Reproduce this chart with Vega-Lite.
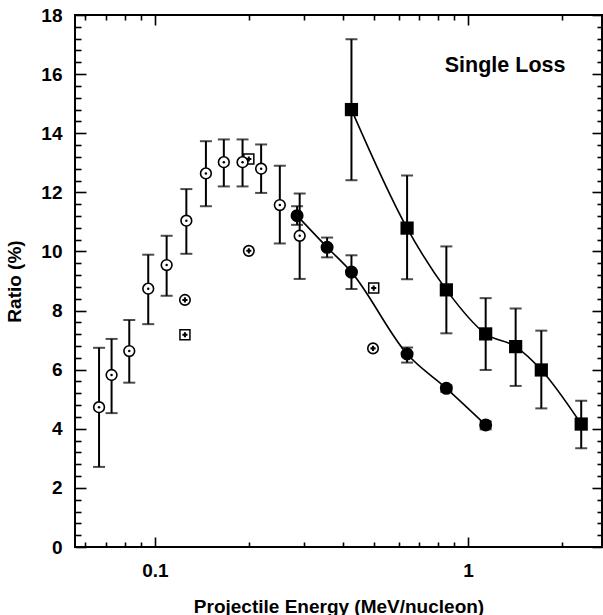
{
  "$schema": "https://vega.github.io/schema/vega-lite/v6.json",
  "autosize": {"type": "none"},
  "padding": {"left": 75, "top": 15, "right": 1, "bottom": 68},
  "width": 527,
  "height": 532,
  "background": "white",
  "config": {
    "view": {"stroke": "black", "strokeWidth": 2},
    "axis": {
      "grid": false, "domain": false, "tickColor": "black", "tickWidth": 1.6,
      "labelFont": "Liberation Sans", "labelFontSize": 19, "labelFontWeight": "bold", "labelColor": "black",
      "titleFont": "Liberation Sans", "titleFontSize": 19, "titleFontWeight": "bold", "titleColor": "black"
    }
  },
  "data": {"values": [
    {"s": "open", "E": 0.0663, "R": 4.73, "lo": 2.71, "hi": 6.74},
    {"s": "open", "E": 0.0727, "R": 5.82, "lo": 4.53, "hi": 7.04},
    {"s": "open", "E": 0.0828, "R": 6.63, "lo": 5.56, "hi": 7.68},
    {"s": "open", "E": 0.0952, "R": 8.74, "lo": 7.54, "hi": 9.89},
    {"s": "open", "E": 0.109, "R": 9.54, "lo": 8.5, "hi": 10.53},
    {"s": "open", "E": 0.126, "R": 11.04, "lo": 9.92, "hi": 12.11},
    {"s": "open", "E": 0.1455, "R": 12.64, "lo": 11.53, "hi": 13.73},
    {"s": "open", "E": 0.166, "R": 13.02, "lo": 12.2, "hi": 13.79},
    {"s": "open", "E": 0.1905, "R": 13.02, "lo": 12.2, "hi": 13.79},
    {"s": "open", "E": 0.2184, "R": 12.8, "lo": 11.98, "hi": 13.62},
    {"s": "open", "E": 0.2506, "R": 11.57, "lo": 10.27, "hi": 12.9},
    {"s": "open", "E": 0.29, "R": 10.53, "lo": 9.07, "hi": 11.96},
    {"s": "fc", "E": 0.2845, "R": 11.21, "lo": 10.9, "hi": 11.53},
    {"s": "fc", "E": 0.3548, "R": 10.14, "lo": 9.8, "hi": 10.47},
    {"s": "fc", "E": 0.4244, "R": 9.3, "lo": 8.73, "hi": 9.87},
    {"s": "fc", "E": 0.639, "R": 6.53, "lo": 6.24, "hi": 6.75},
    {"s": "fc", "E": 0.853, "R": 5.37, "lo": 5.25, "hi": 5.47},
    {"s": "fc", "E": 1.139, "R": 4.13, "lo": 3.98, "hi": 4.25},
    {"s": "fs", "E": 0.4244, "R": 14.8, "lo": 12.41, "hi": 17.18},
    {"s": "fs", "E": 0.639, "R": 10.79, "lo": 9.06, "hi": 12.57},
    {"s": "fs", "E": 0.853, "R": 8.7, "lo": 7.23, "hi": 10.17},
    {"s": "fs", "E": 1.139, "R": 7.21, "lo": 5.99, "hi": 8.42},
    {"s": "fs", "E": 1.42, "R": 6.78, "lo": 5.45, "hi": 8.07},
    {"s": "fs", "E": 1.715, "R": 5.99, "lo": 4.69, "hi": 7.32},
    {"s": "fs", "E": 2.3, "R": 4.16, "lo": 3.34, "hi": 4.95},
    {"s": "oplus", "E": 0.1247, "R": 8.36},
    {"s": "oplus", "E": 0.1995, "R": 10.02},
    {"s": "oplus", "E": 0.4974, "R": 6.72},
    {"s": "boxplus", "E": 0.1247, "R": 7.18},
    {"s": "boxplus", "E": 0.1995, "R": 13.13},
    {"s": "boxplus", "E": 0.4999, "R": 8.76}
  ]},
  "resolve": {"axis": {"x": "independent", "y": "independent"}},
  "layer": [
    {
      "transform": [{"filter": "isValid(datum.lo)"}],
      "mark": {"type": "rule", "color": "black", "strokeWidth": 2},
      "encoding": {
        "x": {"field": "E", "type": "quantitative",
          "scale": {"type": "log", "domain": [0.05555, 2.68], "nice": false},
          "axis": {"orient": "bottom", "values": [0.1, 1], "format": "~g", "tickSize": -10, "labelPadding": 24,
            "title": "Projectile Energy (MeV/nucleon)", "titleBaseline": "alphabetic", "titleY": 65}},
        "y": {"field": "lo", "type": "quantitative",
          "scale": {"domain": [0, 18], "nice": false, "zero": false},
          "axis": {"orient": "left", "values": [0, 2, 4, 6, 8, 10, 12, 14, 16, 18], "tickSize": -11, "labelPadding": 24,
            "title": "Ratio (%)", "titleBaseline": "alphabetic", "titleX": -55}},
        "y2": {"field": "hi"}
      }
    },
    {
      "transform": [{"filter": "isValid(datum.lo)"}],
      "mark": {"type": "tick", "color": "black", "size": 12, "thickness": 2, "orient": "horizontal"},
      "encoding": {
        "x": {"field": "E", "type": "quantitative",
          "axis": {"orient": "bottom", "values": [0.06, 0.07, 0.08, 0.09, 0.2, 0.3, 0.4, 0.5, 0.6, 0.7, 0.8, 0.9, 2], "tickSize": -5, "labels": false, "title": null}},
        "y": {"field": "lo", "type": "quantitative",
          "axis": {"orient": "left", "values": [0.4,0.8,1.2,1.6,2.4,2.8,3.2,3.6,4.4,4.8,5.2,5.6,6.4,6.8,7.2,7.6,8.4,8.8,9.2,9.6,10.4,10.8,11.2,11.6,12.4,12.8,13.2,13.6,14.4,14.8,15.2,15.6,16.4,16.8,17.2,17.6], "tickSize": -6, "labels": false, "title": null}}
      }
    },
    {
      "transform": [{"filter": "isValid(datum.hi)"}],
      "mark": {"type": "tick", "color": "black", "size": 12, "thickness": 2, "orient": "horizontal"},
      "encoding": {
        "x": {"field": "E", "type": "quantitative",
          "axis": {"orient": "top", "values": [0.1, 1], "tickSize": -10, "labels": false, "title": null}},
        "y": {"field": "hi", "type": "quantitative",
          "axis": {"orient": "right", "values": [0, 2, 4, 6, 8, 10, 12, 14, 16, 18], "tickSize": -10, "labels": false, "title": null}}
      }
    },
    {
      "transform": [{"filter": "datum.s === 'fc' || datum.s === 'fs'"}],
      "mark": {"type": "line", "color": "black", "strokeWidth": 1.6, "interpolate": "monotone"},
      "encoding": {
        "x": {"field": "E", "type": "quantitative",
          "axis": {"orient": "top", "values": [0.06, 0.07, 0.08, 0.09, 0.2, 0.3, 0.4, 0.5, 0.6, 0.7, 0.8, 0.9, 2], "tickSize": -5, "labels": false, "title": null}},
        "y": {"field": "R", "type": "quantitative",
          "axis": {"orient": "right", "values": [0.4,0.8,1.2,1.6,2.4,2.8,3.2,3.6,4.4,4.8,5.2,5.6,6.4,6.8,7.2,7.6,8.4,8.8,9.2,9.6,10.4,10.8,11.2,11.6,12.4,12.8,13.2,13.6,14.4,14.8,15.2,15.6,16.4,16.8,17.2,17.6], "tickSize": -5, "labels": false, "title": null}},
        "detail": {"field": "s"}
      }
    },
    {
      "transform": [{"filter": "datum.s === 'boxplus'"}],
      "mark": {"type": "point", "shape": "square", "size": 100, "filled": false, "fill": "white", "fillOpacity": 1, "stroke": "black", "strokeWidth": 1.5, "opacity": 1},
      "encoding": {"x": {"field": "E", "type": "quantitative", "axis": null}, "y": {"field": "R", "type": "quantitative", "axis": null}}
    },
    {
      "transform": [{"filter": "datum.s === 'boxplus' || datum.s === 'oplus'"}],
      "mark": {"type": "point", "shape": "cross", "size": 26, "filled": true, "color": "black", "opacity": 1},
      "encoding": {"x": {"field": "E", "type": "quantitative", "axis": null}, "y": {"field": "R", "type": "quantitative", "axis": null}}
    },
    {
      "transform": [{"filter": "datum.s === 'oplus'"}],
      "mark": {"type": "point", "shape": "circle", "size": 110, "filled": false, "fill": "white", "fillOpacity": 0, "stroke": "black", "strokeWidth": 1.6, "opacity": 1},
      "encoding": {"x": {"field": "E", "type": "quantitative", "axis": null}, "y": {"field": "R", "type": "quantitative", "axis": null}}
    },
    {
      "transform": [{"filter": "datum.s === 'open'"}],
      "mark": {"type": "point", "shape": "circle", "size": 115, "filled": false, "fill": "white", "fillOpacity": 1, "stroke": "black", "strokeWidth": 1.6, "opacity": 1},
      "encoding": {"x": {"field": "E", "type": "quantitative", "axis": null}, "y": {"field": "R", "type": "quantitative", "axis": null}}
    },
    {
      "transform": [{"filter": "datum.s === 'open'"}],
      "mark": {"type": "point", "shape": "circle", "size": 6, "filled": true, "color": "black", "opacity": 1},
      "encoding": {"x": {"field": "E", "type": "quantitative", "axis": null}, "y": {"field": "R", "type": "quantitative", "axis": null}}
    },
    {
      "transform": [{"filter": "datum.s === 'fc'"}],
      "mark": {"type": "point", "shape": "circle", "size": 170, "filled": true, "color": "black", "opacity": 1},
      "encoding": {"x": {"field": "E", "type": "quantitative", "axis": null}, "y": {"field": "R", "type": "quantitative", "axis": null}}
    },
    {
      "transform": [{"filter": "datum.s === 'fs'"}],
      "mark": {"type": "point", "shape": "square", "size": 175, "filled": true, "color": "black", "opacity": 1},
      "encoding": {"x": {"field": "E", "type": "quantitative", "axis": null}, "y": {"field": "R", "type": "quantitative", "axis": null}}
    },
    {
      "data": {"values": [{"label": "Single Loss", "E": 1.314, "R": 16.06}]},
      "mark": {"type": "text", "font": "Liberation Sans", "fontSize": 21.5, "fontWeight": "bold", "align": "center", "baseline": "alphabetic", "color": "black"},
      "encoding": {
        "x": {"field": "E", "type": "quantitative", "axis": null},
        "y": {"field": "R", "type": "quantitative", "axis": null},
        "text": {"field": "label"}
      }
    }
  ]
}
